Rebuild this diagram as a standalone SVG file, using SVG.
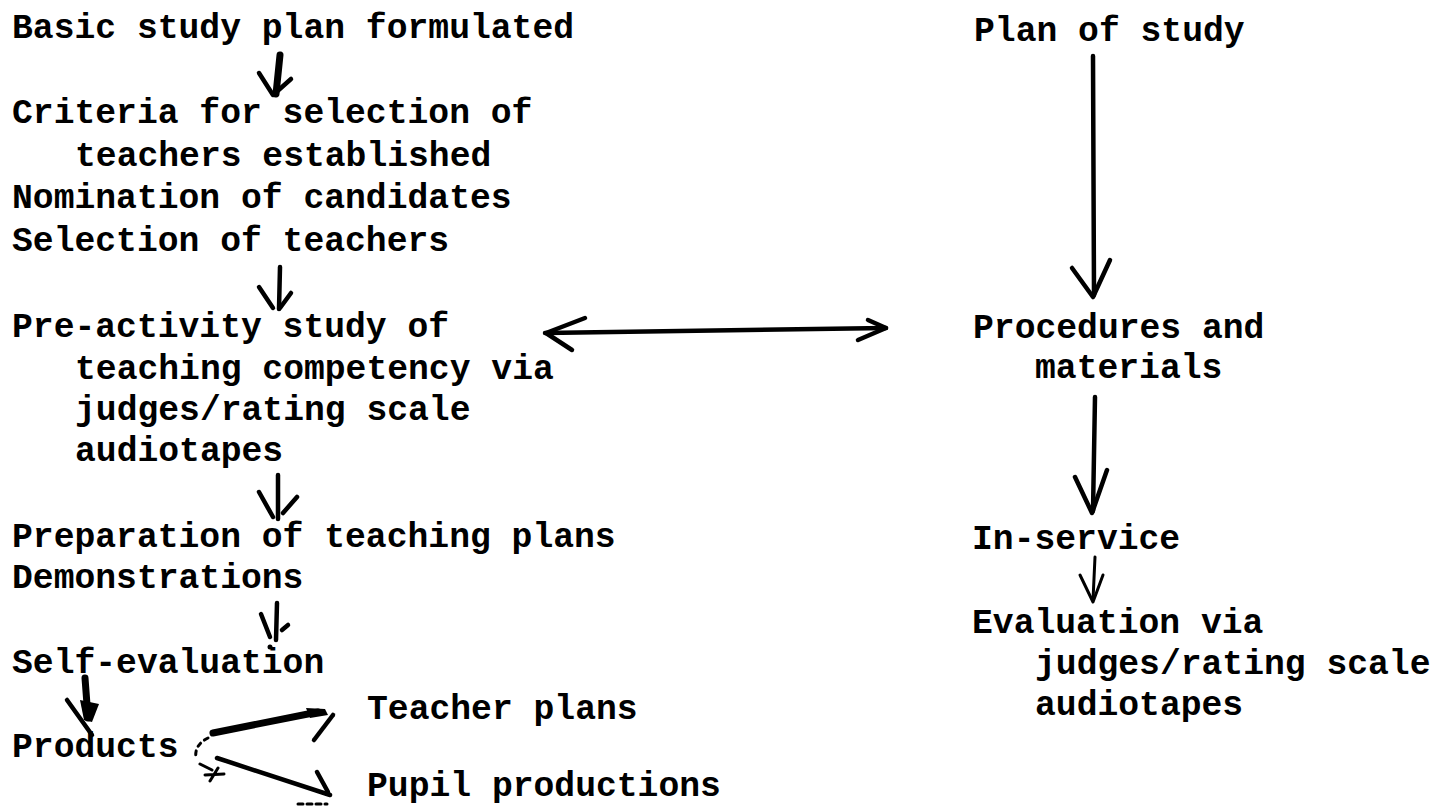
<svg xmlns="http://www.w3.org/2000/svg" width="1432" height="807" viewBox="0 0 1432 807">
<style>
text{font-family:"Liberation Mono","DejaVu Sans Mono",monospace;font-weight:bold;font-size:34.7px;fill:#000}
.a{fill:none;stroke:#000;stroke-width:4.5;stroke-linecap:round;stroke-linejoin:round}
.t{fill:none;stroke:#000;stroke-width:3;stroke-linecap:round;stroke-linejoin:round}
.h{fill:none;stroke:#000;stroke-width:7;stroke-linecap:round;stroke-linejoin:round}
</style>
<rect width="1432" height="807" fill="#fff"/>
<g id="basic-plan"><text x="12" y="38">Basic study plan formulated</text></g>
<g id="criteria">
<text x="12" y="123">Criteria for selection of</text>
<text x="75" y="166">teachers established</text>
<text x="12" y="208">Nomination of candidates</text>
<text x="12" y="251">Selection of teachers</text>
</g>
<g id="pre-activity">
<text x="12" y="337">Pre-activity study of</text>
<text x="75" y="379">teaching competency via</text>
<text x="75" y="420">judges/rating scale</text>
<text x="75" y="461">audiotapes</text>
</g>
<g id="preparation">
<text x="12" y="547">Preparation of teaching plans</text>
<text x="12" y="588">Demonstrations</text>
</g>
<g id="self-evaluation"><text x="12" y="673">Self-evaluation</text></g>
<g id="products"><text x="12" y="757">Products</text></g>
<g id="teacher-plans"><text x="367" y="719">Teacher plans</text></g>
<g id="pupil-productions"><text x="367" y="796">Pupil productions</text></g>
<g id="plan-of-study"><text x="974" y="41">Plan of study</text></g>
<g id="procedures">
<text x="973" y="338">Procedures and</text>
<text x="1035" y="378">materials</text>
</g>
<g id="in-service"><text x="972" y="549">In-service</text></g>
<g id="evaluation">
<text x="972" y="633">Evaluation via</text>
<text x="1035" y="674">judges/rating scale</text>
<text x="1035" y="715">audiotapes</text>
</g>
<g id="connectors">
<!-- basic -> criteria -->
<path class="h" d="M280 55 L276 94"/>
<path class="a" d="M259 73 L273 95 L291 79"/>
<!-- selection -> pre-activity -->
<path class="a" d="M280 267 L279 309"/>
<path class="a" d="M259 287 L273 308 M291 293 L280 308"/>
<!-- pre-activity -> preparation -->
<path class="a" d="M278 475 L278 519"/>
<path class="a" d="M259 492 L273 517 M297 497 L283 513"/>
<!-- demonstrations -> self-evaluation -->
<path class="a" d="M277 603 L276 640"/>
<path class="a" d="M261 614 L270 637 M288 625 L282 630"/>
<circle cx="270" cy="647" r="2.5"/>
<!-- self-evaluation -> products -->
<path class="h" d="M85 678 L88 718"/>
<path d="M80 700 L99 704 L92 722 L84 720 Z"/>
<path class="a" d="M67 700 L92 735"/>
<!-- products -> teacher plans -->
<path class="h" d="M213 733 L318 712"/>
<path d="M306 708 L325 709 L328 715 L310 718 Z"/>
<path class="a" d="M333 715 L314 740"/>
<path class="t" stroke-dasharray="4 5" d="M208 738 Q194 745 196 758"/>
<!-- products -> pupil productions -->
<path class="a" d="M217 758 L330 795"/>
<path class="a" d="M317 772 L328 792"/>
<path class="t" stroke-dasharray="5 4" d="M298 804 L327 804"/>
<path class="t" d="M200 764 L212 770 M205 775 L224 774 M210 781 L218 768"/>
<!-- pre-activity <-> procedures -->
<path class="a" d="M545 333 L886 328"/>
<path class="a" d="M585 318 L546 333 L572 350"/>
<path class="a" d="M868 320 L886 328 L858 340"/>
<!-- plan of study -> procedures -->
<path class="a" d="M1093 56 L1094 295"/>
<path class="a" d="M1072 268 L1093 297 L1110 260"/>
<!-- procedures -> in-service -->
<path class="a" d="M1095 397 L1093 511"/>
<path class="a" d="M1075 477 L1092 513 L1107 470"/>
<!-- in-service -> evaluation -->
<path class="t" d="M1095 557 L1093 600"/>
<path class="t" d="M1080 575 L1093 602 L1103 575"/>
</g>
</svg>
